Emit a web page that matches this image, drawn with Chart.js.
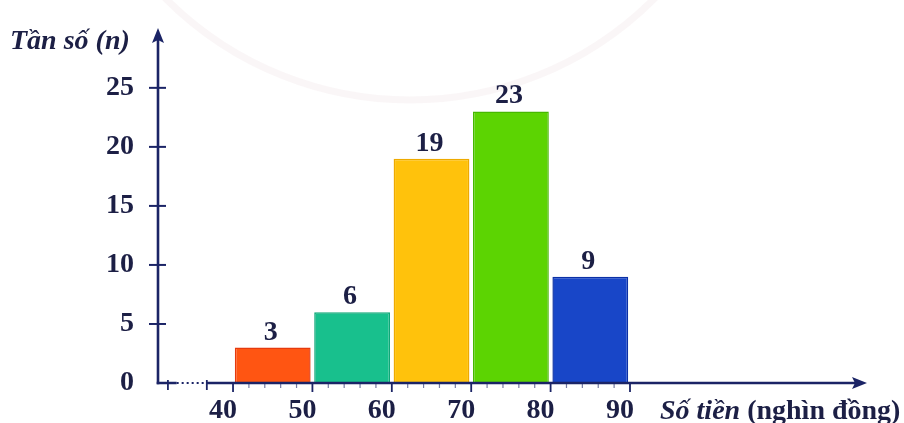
<!DOCTYPE html>
<html>
<head>
<meta charset="utf-8">
<script src="https://cdn.jsdelivr.net/npm/chart.js@4.4.1/dist/chart.umd.min.js"></script>
<style>
  html, body { margin: 0; padding: 0; background: #ffffff; }
  #wrap { position: relative; width: 904px; height: 423px; }
</style>
</head>
<body>
<div id="wrap"><canvas id="c" width="904" height="423"></canvas></div>
<script>
// Class intervals (lower bounds, width 10) and their frequencies
const classStarts = [40, 50, 60, 70, 80];
const classWidth = 10;
const frequencies = [3, 6, 19, 23, 9];
const xTickValues = [40, 50, 60, 70, 80, 90];
const yTickValues = [0, 5, 10, 15, 20, 25];

const fillColors   = ['#ff5512', '#18c08d', '#ffc20c', '#5cd402', '#1846c8'];
const borderColors = ['#e63a0e', '#0ea878', '#eeaa00', '#46b800', '#0b30a6'];

const AXIS = '#1b2466';
const TEXT = '#1c1f45';
const SERIF = '"Liberation Serif", "DejaVu Serif", serif';

const points = classStarts.map((s, i) => ({ x: s + classWidth / 2, y: frequencies[i] }));

// Keep the plot area fixed: no extra room for label overhang
function fixedFit(size) {
  return axis => {
    if (size.width !== undefined) axis.width = size.width;
    if (size.height !== undefined) axis.height = size.height;
    axis.paddingTop = 0;
    axis.paddingBottom = 0;
    axis.paddingLeft = 0;
    axis.paddingRight = 0;
  };
}

// Hand-drawn style axes: arrows, tick marks and the broken segment near the origin
const axesPlugin = {
  id: 'arrowAxes',
  beforeDraw(chart) {
    const ctx = chart.ctx;
    // faint background ring
    ctx.save();
    ctx.strokeStyle = 'rgba(238, 222, 228, 0.28)';
    ctx.lineWidth = 7;
    ctx.beginPath();
    ctx.arc(410, -245, 345, 0, Math.PI);
    ctx.stroke();
    ctx.restore();
  },
  afterDatasetsDraw(chart) {
    const ctx = chart.ctx;
    const xs = chart.scales.x, ys = chart.scales.y;
    const ox = xs.left, oy = ys.getPixelForValue(0);
    const top = ys.top, right = xs.right;
    ctx.save();
    ctx.strokeStyle = AXIS;
    ctx.fillStyle = AXIS;
    ctx.lineCap = 'butt';

    // y axis line + arrow
    ctx.lineWidth = 2.6;
    ctx.beginPath();
    ctx.moveTo(ox, oy + 1.3);
    ctx.lineTo(ox, top + 10);
    ctx.stroke();
    ctx.beginPath();
    ctx.moveTo(ox, top - 2);
    ctx.lineTo(ox - 6, top + 13);
    ctx.lineTo(ox, top + 10);
    ctx.lineTo(ox + 6, top + 13);
    ctx.closePath();
    ctx.fill();

    // y tick marks
    ctx.lineWidth = 2;
    yTickValues.slice(1).forEach(v => {
      const py = ys.getPixelForValue(v);
      ctx.beginPath();
      ctx.moveTo(ox - 9, py);
      ctx.lineTo(ox + 8, py);
      ctx.stroke();
    });

    // x axis: solid start, dotted break, then solid to the arrow
    const b0 = xs.getPixelForValue(32.9), b1 = xs.getPixelForValue(36.7);
    ctx.lineWidth = 2.6;
    ctx.beginPath();
    ctx.moveTo(ox - 1.3, oy);
    ctx.lineTo(b0, oy);
    ctx.moveTo(b1, oy);
    ctx.lineTo(right - 10, oy);
    ctx.stroke();
    ctx.lineWidth = 2;
    ctx.setLineDash([2, 3]);
    ctx.beginPath();
    ctx.moveTo(b0, oy);
    ctx.lineTo(b1, oy);
    ctx.stroke();
    ctx.setLineDash([]);
    ctx.beginPath();
    ctx.moveTo(right + 2, oy);
    ctx.lineTo(right - 13, oy - 6);
    ctx.lineTo(right - 10, oy);
    ctx.lineTo(right - 13, oy + 6);
    ctx.closePath();
    ctx.fill();

    // break-marker ticks
    ctx.lineWidth = 1.8;
    [31.8, 36.7].forEach(v => {
      const px = xs.getPixelForValue(v);
      ctx.beginPath();
      ctx.moveTo(px, oy - 3);
      ctx.lineTo(px, oy + 7);
      ctx.stroke();
    });

    // minor ticks every 2 units
    ctx.lineWidth = 1.2;
    ctx.strokeStyle = 'rgba(27, 36, 102, 0.6)';
    for (let v = xTickValues[0]; v < xTickValues[xTickValues.length - 1]; v += 2) {
      if (v % 10 === 0) continue;
      const px = xs.getPixelForValue(v);
      ctx.beginPath();
      ctx.moveTo(px, oy);
      ctx.lineTo(px, oy + 5);
      ctx.stroke();
    }
    // major ticks
    ctx.strokeStyle = AXIS;
    ctx.lineWidth = 1.8;
    xTickValues.forEach(v => {
      const px = xs.getPixelForValue(v);
      ctx.beginPath();
      ctx.moveTo(px, oy);
      ctx.lineTo(px, oy + 9);
      ctx.stroke();
    });

    // value labels above the bars
    const meta = chart.getDatasetMeta(0);
    ctx.fillStyle = TEXT;
    ctx.font = 'bold 28px ' + SERIF;
    ctx.textAlign = 'center';
    ctx.textBaseline = 'alphabetic';
    meta.data.forEach((bar, i) => {
      ctx.fillText(String(frequencies[i]), bar.x - 2, bar.y - 8);
    });

    // axis titles
    ctx.textAlign = 'left';
    ctx.font = 'italic bold 28px ' + SERIF;
    ctx.fillText('Tần số (n)', 10, 49);

    const tx = 660, ty = 419;
    ctx.font = 'italic bold 28px ' + SERIF;
    const part1 = 'Số tiền ';
    ctx.fillText(part1, tx, ty);
    const w1 = ctx.measureText(part1).width;
    ctx.font = 'bold 28px ' + SERIF;
    ctx.fillText('(nghìn đồng)', tx + w1, ty);
    ctx.restore();
  }
};

new Chart(document.getElementById('c'), {
  type: 'bar',
  data: {
    datasets: [{
      data: points,
      backgroundColor: fillColors,
      borderColor: borderColors,
      borderWidth: 1.5,
      borderSkipped: 'bottom',
      barPercentage: 0.955,
      categoryPercentage: 1
    }]
  },
  options: {
    responsive: false,
    animation: false,
    events: [],
    layout: { padding: { left: 0, right: 39, top: 30, bottom: 0 } },
    plugins: { legend: { display: false }, tooltip: { enabled: false } },
    scales: {
      x: {
        type: 'linear',
        offset: false,
        min: 30.55,
        max: 119.6,
        grid: { display: false, drawTicks: false },
        border: { display: false },
        afterBuildTicks: axis => { axis.ticks = xTickValues.map(v => ({ value: v })); },
        afterFit: fixedFit({ height: 40 }),
        ticks: {
          autoSkip: false,
          maxRotation: 0,
          padding: 11,
          labelOffset: -10,
          color: TEXT,
          font: { family: SERIF, size: 28, weight: 'bold' },
          callback: v => String(v)
        }
      },
      y: {
        min: 0,
        max: 29.9,
        grid: { display: false, drawTicks: false },
        border: { display: false },
        afterBuildTicks: axis => { axis.ticks = yTickValues.map(v => ({ value: v })); },
        afterFit: fixedFit({ width: 158 }),
        ticks: {
          padding: 24,
          color: TEXT,
          font: { family: SERIF, size: 28, weight: 'bold' },
          callback: v => String(v)
        }
      }
    }
  },
  plugins: [axesPlugin]
});
</script>
</body>
</html>
